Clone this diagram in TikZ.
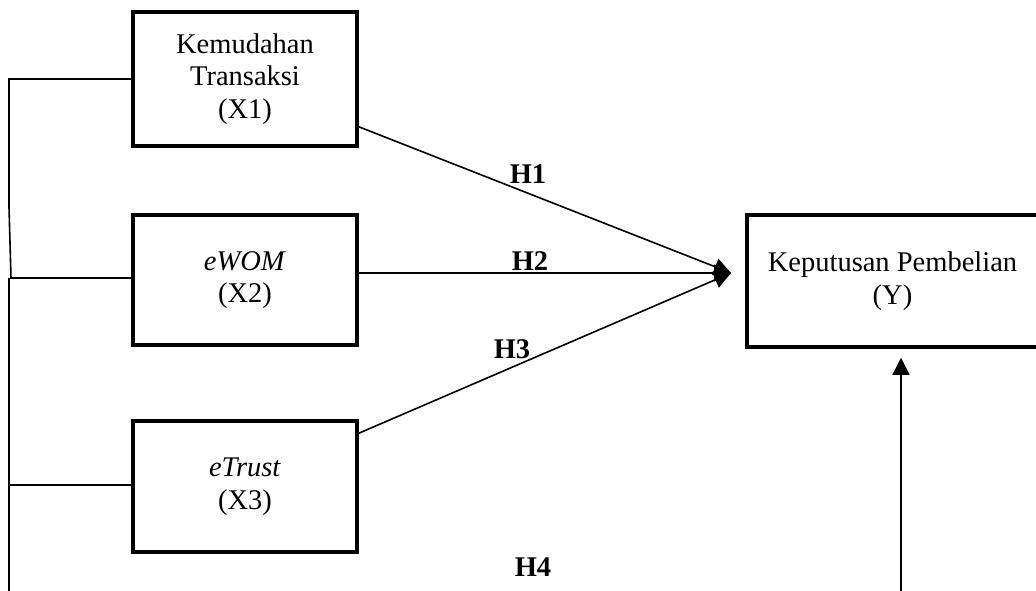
\documentclass[tikz,border=0pt]{standalone}
\usepackage{fontspec}
\setmainfont{Liberation Serif}
\usetikzlibrary{arrows.meta,calc}
\begin{document}
\begin{tikzpicture}[x=1pt,y=-1pt,
  box/.style={draw,line width=3.5pt,minimum width=224pt,align=center,inner sep=0pt,
    font=\fontsize{28.5}{32.5}\selectfont},
  conn/.style={line width=1.6pt},
  arr/.style={line width=1.6pt,-{Triangle[length=17pt,width=17pt]}},
  hlab/.style={font=\fontsize{28.5}{32.5}\selectfont\bfseries}]
\useasboundingbox (0,0) rectangle (1036,591);
\node[box,minimum height=134pt] (X1) at (245,79) {Kemudahan\\Transaksi\\(X1)};
\node[box,minimum height=130pt] (X2) at (245,280) {\textit{eWOM}\\(X2)};
\node[box,minimum height=131pt] (X3) at (245,486.5) {\textit{eTrust}\\(X3)};
\node[box,minimum width=291pt,minimum height=132pt] (Y) at (892.5,281) {Keputusan Pembelian\\(Y)};
\coordinate (tip) at (731,273);
\draw[arr] ([yshift=21pt]X1.south east) -- (tip);
\draw[arr] (X2.east |- tip) -- (tip);
\draw[arr] ([yshift=-14pt]X3.north east) -- (tip);
\node[hlab] (h1) at (528,174) {H1};
\node[hlab] (h2) at (530,261) {H2};
\node[hlab] (h3) at (512,349) {H3};
\node[hlab] (h4) at (533,567) {H4};
% bracket on the left
\coordinate (b1) at (9,207);
\coordinate (b2) at (11,278);
\coordinate (b3) at (9,591);
\draw[conn] (X1.west) -- (9,79) -- (b1) -- (b2) -- (X2.west |- b2);
\draw[conn] (9,278) -- (b3);
\draw[conn] (9,485) -- (X3.west |- 0,485);
% bottom arrow
\coordinate (b4) at (901,591);
\draw[arr,shorten >=9pt] (b4) -- (b4 |- Y.south);
\end{tikzpicture}
\end{document}
